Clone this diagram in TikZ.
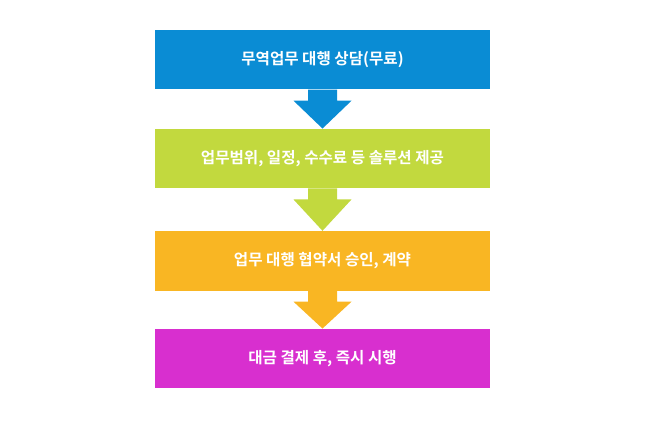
\documentclass[tikz,border=0pt]{standalone}
\usepackage{fontspec}
\newfontfamily\kr{Noto Sans CJK KR}[BoldFont={* Bold}]
\usetikzlibrary{calc}
\definecolor{cblue}{HTML}{0A8CD4}
\definecolor{cgreen}{HTML}{C2D93E}
\definecolor{corange}{HTML}{F9B623}
\definecolor{cmag}{HTML}{D82FCF}
\tikzset{
  stepbox/.style={rectangle, minimum width=335pt, minimum height=59.5pt, inner sep=0pt,
    text=white, font=\kr\bfseries\fontsize{15.6}{17}\selectfont},
}
\newcommand{\flowarrow}[3]{%
  \fill[#3] ($(#1.south)+(-14.5pt,0)$) -- ($(#1.south)+(14.5pt,0)$) -- ($(#1.south)+(14.5pt,-11pt)$)
    -- ($(#1.south)+(29pt,-11pt)$) -- (#2.north) -- ($(#1.south)+(-29pt,-11pt)$)
    -- ($(#1.south)+(-14.5pt,-11pt)$) -- cycle;}
\begin{document}
\begin{tikzpicture}[x=1pt,y=-1pt]
\useasboundingbox (0,0) rectangle (645,433);
\node[stepbox, fill=cblue] (b1) at (322.5,59.75) {무역업무 대행 상담(무료)};
\node[stepbox, fill=cgreen] (b2) at (322.5,158.5) {업무범위, 일정, 수수료 등 솔루션 제공};
\node[stepbox, fill=corange] (b3) at (322.5,260.75) {업무 대행 협약서 승인, 계약};
\node[stepbox, fill=cmag] (b4) at (322.5,358.5) {대금 결제 후, 즉시 시행};
\flowarrow{b1}{b2}{cblue}
\flowarrow{b2}{b3}{cgreen}
\flowarrow{b3}{b4}{corange}
\end{tikzpicture}
\end{document}
